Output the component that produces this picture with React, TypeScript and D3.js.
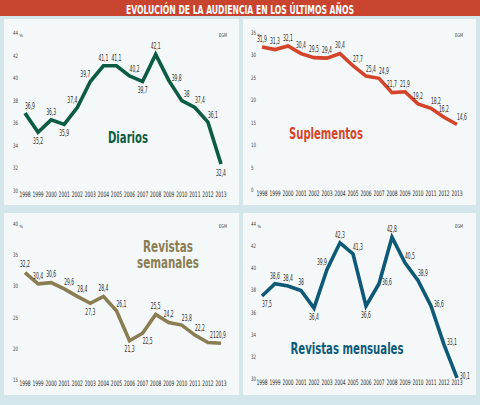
import React from 'react';
import * as d3 from 'd3';

const years = [1998, 1999, 2000, 2001, 2002, 2003, 2004, 2005, 2006, 2007, 2008, 2009, 2010, 2011, 2012, 2013];
const diarios = [36.9, 35.2, 36.3, 35.9, 37.4, 39.7, 41.1, 41.1, 40.2, 39.7, 42.1, 39.8, 38, 37.4, 36.1, 32.4];
const suplementos = [31.9, 31.3, 32.1, 30.4, 29.5, 29.4, 30.4, 27.7, 25.4, 24.9, 21.7, 21.9, 19.2, 18.2, 16.2, 14.6];
const semanales = [32.2, 30.4, 30.6, 29.6, 28.4, 27.3, 28.4, 26.1, 21.3, 22.5, 25.5, 24.2, 23.8, 22.2, 21, 20.9];
const mensuales = [37.5, 38.6, 38.4, 38, 36.4, 39.9, 42.3, 41.3, 36.6, 38.6, 42.8, 40.5, 38.9, 36.6, 33.1, 30.1];
// label printed in the original differs from plotted value at 2007 (index 9)
const mensualesPrinted: Record<number, string> = { 9: '36,6' };

const diariosTicks = [30, 32, 34, 36, 38, 40, 42, 44];
const suplementosTicks = [0, 5, 10, 15, 20, 25, 30, 35];
const semanalesTicks = [15, 20, 25, 30, 35, 40];
const mensualesTicks = [30, 32, 34, 36, 38, 40, 42, 44];

const TITLE = 'EVOLUCIÓN DE LA AUDIENCIA EN LOS ÚLTIMOS AÑOS';
const SOURCE = 'EGM';

const NARROW = "'Liberation Sans Narrow','Arial Narrow','DejaVu Sans Condensed','Roboto',sans-serif";

// label placement codes: center offsets from the point
const OFF: Record<string, [number, number]> = {
  a: [0, -8],
  b: [0, 9],
  ar: [5, -7],
  al: [-5, -7],
  r: [8, -2],
  br: [5, 8],
};

type Panel = {
  rect: [number, number, number, number];
  values: number[];
  printed?: Record<number, string>;
  ticks: number[];
  yDomain: [number, number];
  yRange: [number, number];
  xRange: [number, number];
  tickX: number;
  color: string;
  place: string[];
  name: string[];
  nameX: number;
  nameY: number;
  nameSize: number;
  nameWidths: number[];
};

const panels: Panel[] = [
  {
    rect: [4, 19, 235, 186],
    values: diarios,
    ticks: diariosTicks,
    yDomain: [30, 44],
    yRange: [191, 33],
    xRange: [25, 221],
    tickX: 13,
    color: '#0c5c44',
    place: ['ar', 'b', 'a', 'b', 'al', 'al', 'a', 'a', 'ar', 'b', 'a', 'r', 'ar', 'ar', 'ar', 'b'],
    name: ['Diarios'],
    nameX: 128,
    nameY: 143,
    nameSize: 16,
    nameWidths: [40],
  },
  {
    rect: [243, 19, 233, 186],
    values: suplementos,
    ticks: suplementosTicks,
    yDomain: [0, 35],
    yRange: [190, 33],
    xRange: [262, 457],
    tickX: 251,
    color: '#d4442a',
    place: ['a', 'a', 'a', 'a', 'a', 'a', 'a', 'ar', 'ar', 'ar', 'a', 'a', 'a', 'ar', 'a', 'ar'],
    name: ['Suplementos'],
    nameX: 326,
    nameY: 139,
    nameSize: 16,
    nameWidths: [74],
  },
  {
    rect: [4, 213, 235, 182],
    values: semanales,
    ticks: semanalesTicks,
    yDomain: [15, 40],
    yRange: [380, 224],
    xRange: [25, 221],
    tickX: 13,
    color: '#8a7d52',
    place: ['a', 'a', 'a', 'ar', 'ar', 'b', 'a', 'ar', 'b', 'br', 'a', 'a', 'ar', 'ar', 'ar', 'a'],
    name: ['Revistas', 'semanales'],
    nameX: 168,
    nameY: 252,
    nameSize: 15,
    nameWidths: [50, 62],
  },
  {
    rect: [243, 213, 233, 182],
    values: mensuales,
    printed: mensualesPrinted,
    ticks: mensualesTicks,
    yDomain: [30, 44],
    yRange: [379, 224],
    xRange: [262, 457],
    tickX: 251,
    color: '#0e5878',
    place: ['br', 'a', 'a', 'a', 'b', 'al', 'a', 'ar', 'b', 'r', 'a', 'ar', 'ar', 'r', 'r', 'r'],
    name: ['Revistas mensuales'],
    nameX: 347,
    nameY: 354,
    nameSize: 16,
    nameWidths: [113],
  },
];

const fmt = (v: number) => String(v).replace('.', ',');
// narrow, condensed look: width per glyph
const labelWidth = (s: string) =>
  s.split('').reduce((acc, ch) => acc + (ch === ',' ? 1.4 : 2.85), 0);

function ChartPanel({ p }: { p: Panel }) {
  const x = d3.scaleLinear().domain([years[0], years[years.length - 1]]).range(p.xRange);
  const y = d3.scaleLinear().domain(p.yDomain).range(p.yRange);
  const line = d3
    .line<number>()
    .x((_, i) => x(years[i]))
    .y((d) => y(d));
  const [rx, ry, rw, rh] = p.rect;
  const topTick = p.ticks[p.ticks.length - 1];
  const yearY = p.yRange[0] + 5.5;
  return (
    <g>
      <rect x={rx} y={ry} width={rw} height={rh} fill="#f4f8f8" />
      {p.ticks.map((t) => (
        <text key={t} x={p.tickX} y={y(t) + 2} fontSize={6} fill="#444" fontFamily={NARROW}>
          <tspan textLength={String(t).length * 2.5} lengthAdjust="spacingAndGlyphs">
            {t}
          </tspan>
          {t === topTick ? (
            <tspan fontSize={4.5} dx={1.2} dy={1.5}>
              %
            </tspan>
          ) : null}
        </text>
      ))}
      <text
        x={p.xRange[1] + 2}
        y={y(topTick) + 4}
        fontSize={5}
        fill="#444"
        fontFamily={NARROW}
        textAnchor="middle"
        textLength={8}
        lengthAdjust="spacingAndGlyphs"
      >
        {SOURCE}
      </text>
      {years.map((yr) => (
        <text
          key={yr}
          x={x(yr)}
          y={yearY}
          fontSize={7.5}
          fill="#2a2a2a"
          fontFamily={NARROW}
          textAnchor="middle"
          textLength={11.2}
          lengthAdjust="spacingAndGlyphs"
        >
          {yr}
        </text>
      ))}
      <path
        d={line(p.values) || ''}
        fill="none"
        stroke={p.color}
        strokeWidth={3.6}
        strokeLinejoin="miter"
        strokeLinecap="butt"
      />
      {p.values.map((v, i) => {
        const [dx, dy] = OFF[p.place[i]];
        const label = p.printed && p.printed[i] ? p.printed[i] : fmt(v);
        return (
          <text
            key={i}
            x={x(years[i]) + dx}
            y={y(v) + dy + 2.8}
            fontSize={8}
            fill="#2e2e2e"
            fontFamily={NARROW}
            textAnchor="middle"
            textLength={labelWidth(label)}
            lengthAdjust="spacingAndGlyphs"
          >
            {label}
          </text>
        );
      })}
      {p.name.map((n, k) => (
        <text
          key={n}
          x={p.nameX}
          y={p.nameY + k * 16}
          fontSize={p.nameSize}
          fontWeight={700}
          fill={p.color}
          fontFamily={NARROW}
          textAnchor="middle"
          textLength={p.nameWidths[k]}
          lengthAdjust="spacingAndGlyphs"
        >
          {n}
        </text>
      ))}
    </g>
  );
}

export default function App() {
  return (
    <svg
      width={480}
      height={405}
      viewBox="0 0 480 405"
      style={{ position: 'absolute', left: 0, top: 0, display: 'block' }}
    >
      <rect x={0} y={0} width={480} height={405} fill="#d3e6ea" />
      <rect x={0} y={0} width={480} height={16} fill="#c8442e" />
      <text
        x={126}
        y={13.5}
        fontSize={12.5}
        fontWeight={700}
        fill="#ffffff"
        fontFamily={NARROW}
        textLength={228}
        lengthAdjust="spacingAndGlyphs"
      >
        {TITLE}
      </text>
      {panels.map((p, i) => (
        <ChartPanel key={i} p={p} />
      ))}
    </svg>
  );
}
